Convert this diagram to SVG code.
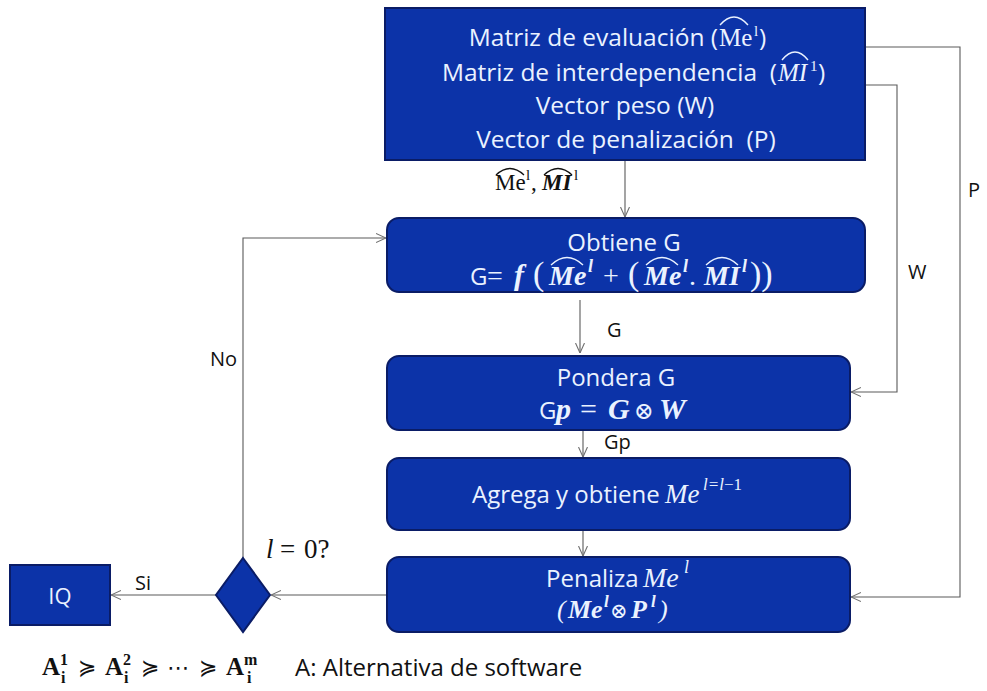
<svg xmlns="http://www.w3.org/2000/svg" width="987" height="691" viewBox="0 0 987 691">
  <defs>
    <marker id="arr" viewBox="0 0 10 10" refX="10" refY="5" markerWidth="10" markerHeight="10" markerUnits="userSpaceOnUse" orient="auto">
      <path d="M0,0.5 L10,5 L0,9.5" fill="none" stroke="#707070" stroke-width="1.1"/>
    </marker>
  </defs>
  <style>
    .box { fill: #0c33a8; stroke: #0a1c66; stroke-width: 2; }
    .t { font-family: "Open Sans", "Liberation Sans", sans-serif; font-size: 24px; fill: #eaf2ff; }
    .c { text-anchor: middle; }
    .e { text-anchor: end; }
    .m { font-family: "Liberation Serif", "DejaVu Serif", serif; }
    .bi { font-family: "Liberation Serif", "DejaVu Serif", serif; font-weight: bold; font-style: italic; }
    .i { font-family: "Liberation Serif", "DejaVu Serif", serif; font-style: italic; }
    .sym { font-family: "DejaVu Serif", "DejaVu Sans", serif; }
    .hat { fill: none; stroke: #eaf2ff; stroke-width: 1.4; }
    .hatk { fill: none; stroke: #111; stroke-width: 1.3; }
    .lbl { font-family: "Open Sans", "Liberation Sans", sans-serif; font-size: 20px; fill: #111; }
    .con { fill: none; stroke: #5a5a5a; stroke-width: 1.1; }
  </style>

  <g id="connectors">
    <path class="con" d="M625,160 V217" marker-end="url(#arr)"/>
    <path class="con" d="M580,300 V353" marker-end="url(#arr)"/>
    <path class="con" d="M583,430 V457" marker-end="url(#arr)"/>
    <path class="con" d="M583,530 V556" marker-end="url(#arr)"/>
    <path class="con" d="M387,595 H271" marker-end="url(#arr)"/>
    <path class="con" d="M216,595 H111" marker-end="url(#arr)"/>
    <path class="con" d="M243,558 V238 H386" marker-end="url(#arr)"/>
    <path class="con" d="M865,85 H897 V392 H851" marker-end="url(#arr)"/>
    <path class="con" d="M865,47 H960 V597 H851" marker-end="url(#arr)"/>
    <!-- edge labels -->
    <text class="lbl" y="190"><tspan class="m" font-size="23" x="495">Me</tspan><tspan class="m" font-size="15" x="526" y="180">l</tspan><tspan class="m" font-size="23" x="531" y="190">,</tspan><tspan class="bi" font-size="23" x="542">MI</tspan><tspan class="m" font-size="15" x="574" y="180">l</tspan></text>
    <path class="hatk" d="M496,175 Q510,162 524,175"/>
    <path class="hatk" d="M544,175 Q558,162 572,175"/>
    <text class="lbl" x="607" y="337">G</text>
    <text class="lbl" x="604" y="449">Gp</text>
    <text class="lbl" x="908" y="279">W</text>
    <text class="lbl" x="968" y="197">P</text>
    <text class="lbl" x="210" y="366">No</text>
    <text class="lbl" x="135" y="590">Si</text>
    <text class="lbl" y="558"><tspan class="i" font-size="27" x="266">l</tspan><tspan class="m" font-size="27" x="280">=</tspan><tspan class="m" font-size="27" x="304">0?</tspan></text>
  </g>

  <g id="datos">
    <rect class="box" x="385" y="8" width="480" height="152"/>
    <text class="t e" x="718" y="46" style="font-size:24.5px">Matriz de evaluación (</text>
    <text class="t" y="46"><tspan class="m" font-size="25" x="719">Me</tspan><tspan class="m" font-size="15" x="754" y="36">l</tspan><tspan font-size="24.5" x="759" y="46">)</tspan></text>
    <path class="hat" d="M720,25 Q734,9 748,25"/>
    <text class="t e" x="777" y="81" style="font-size:24.5px" xml:space="preserve">Matriz de interdependencia  (</text>
    <text class="t" y="81"><tspan class="i" font-size="25" x="778">MI</tspan><tspan class="m" font-size="15" x="810" y="71">1</tspan><tspan font-size="24.5" x="818" y="81">)</tspan></text>
    <path class="hat" d="M782,60 Q795,44 808,60"/>
    <text class="t c" x="625" y="114" style="font-size:24.5px">Vector peso (W)</text>
    <text class="t c" x="626" y="148" style="font-size:24.5px" xml:space="preserve">Vector de penalización  (P)</text>
  </g>

  <g id="obtiene">
    <rect class="box" x="387" y="218" width="478" height="74" rx="12"/>
    <text class="t c" x="624" y="251">Obtiene G</text>
    <text class="t" y="285"><tspan x="470">G</tspan><tspan class="m" font-size="28" x="487">=</tspan><tspan class="bi" font-size="30" x="514">f</tspan><tspan class="m" font-size="34" x="533">(</tspan><tspan class="bi" font-size="28" x="549">Me</tspan><tspan class="bi" font-size="18" x="588" y="272">l</tspan><tspan class="m" font-size="28" x="603" y="285">+</tspan><tspan class="m" font-size="34" x="628">(</tspan><tspan class="bi" font-size="28" x="644">Me</tspan><tspan class="bi" font-size="18" x="683" y="272">l</tspan><tspan class="m" font-size="28" x="689" y="285">.</tspan><tspan class="bi" font-size="28" x="704">MI</tspan><tspan class="bi" font-size="18" x="742" y="272">l</tspan><tspan class="m" font-size="34" x="750" y="285">))</tspan></text>
    <path class="hat" d="M551,265 Q567,250 583,265"/>
    <path class="hat" d="M646,265 Q662,250 678,265"/>
    <path class="hat" d="M706,265 Q722,250 738,265"/>
  </g>

  <g id="pondera">
    <rect class="box" x="387" y="356" width="463" height="74" rx="12"/>
    <text class="t c" x="616" y="386">Pondera G</text>
    <text class="t" y="419"><tspan x="539">G</tspan><tspan class="bi" font-size="30" x="556">p</tspan><tspan class="m" font-size="30" x="580">=</tspan><tspan class="bi" font-size="30" x="608">G</tspan><tspan class="sym" font-size="24" x="634">⊗</tspan><tspan class="bi" font-size="30" x="659">W</tspan></text>
  </g>

  <g id="agrega">
    <rect class="box" x="387" y="458" width="463" height="72" rx="12"/>
    <text class="t" y="503"><tspan x="472">Agrega y obtiene</tspan><tspan class="i" font-size="27" x="665">Me</tspan><tspan class="i" font-size="17" x="703" y="490">l</tspan><tspan class="i" font-size="17">=</tspan><tspan class="i" font-size="17">l</tspan><tspan class="m" font-size="17">−1</tspan></text>
  </g>

  <g id="penaliza">
    <rect class="box" x="387" y="557" width="463" height="75" rx="12"/>
    <text class="t" y="587"><tspan x="546">Penaliza</tspan><tspan class="i" font-size="28" x="643">Me</tspan><tspan class="i" font-size="18" x="684" y="573">l</tspan></text>
    <text class="t" y="618"><tspan class="i" font-size="26" x="557">(</tspan><tspan class="bi" font-size="26" x="568">Me</tspan><tspan class="bi" font-size="17" x="604" y="607">l</tspan><tspan class="sym" font-size="21" x="610" y="618">⊗</tspan><tspan class="bi" font-size="26" x="631">P</tspan><tspan class="bi" font-size="17" x="651" y="607">l</tspan><tspan class="i" font-size="26" x="659" y="618">)</tspan></text>
  </g>

  <g id="decision">
    <polygon class="box" points="243,558 270,595 243,632 216,595"/>
  </g>

  <g id="iq">
    <rect class="box" x="10" y="565" width="100" height="60"/>
    <text class="t c" x="60" y="604" style="font-size:22px">IQ</text>
  </g>

  <g id="leyenda">
    <text class="lbl" y="675"><tspan class="m" font-weight="bold" font-size="25" x="42">A</tspan><tspan class="m" font-weight="bold" font-size="16" x="60" y="665">1</tspan><tspan class="m" font-weight="bold" font-size="16" x="61" y="683">i</tspan><tspan class="sym" font-size="22" x="78" y="675">≽</tspan><tspan class="m" font-weight="bold" font-size="25" x="105">A</tspan><tspan class="m" font-weight="bold" font-size="16" x="123" y="665">2</tspan><tspan class="m" font-weight="bold" font-size="16" x="124" y="683">i</tspan><tspan class="sym" font-size="22" x="141" y="675">≽</tspan><tspan class="sym" font-size="22" x="167">⋯</tspan><tspan class="sym" font-size="22" x="199">≽</tspan><tspan class="m" font-weight="bold" font-size="25" x="226">A</tspan><tspan class="m" font-weight="bold" font-size="16" x="244" y="665">m</tspan><tspan class="m" font-weight="bold" font-size="16" x="247" y="683">i</tspan></text>
    <text class="lbl" x="295" y="676" style="font-size:24px">A: Alternativa de software</text>
  </g>
</svg>
